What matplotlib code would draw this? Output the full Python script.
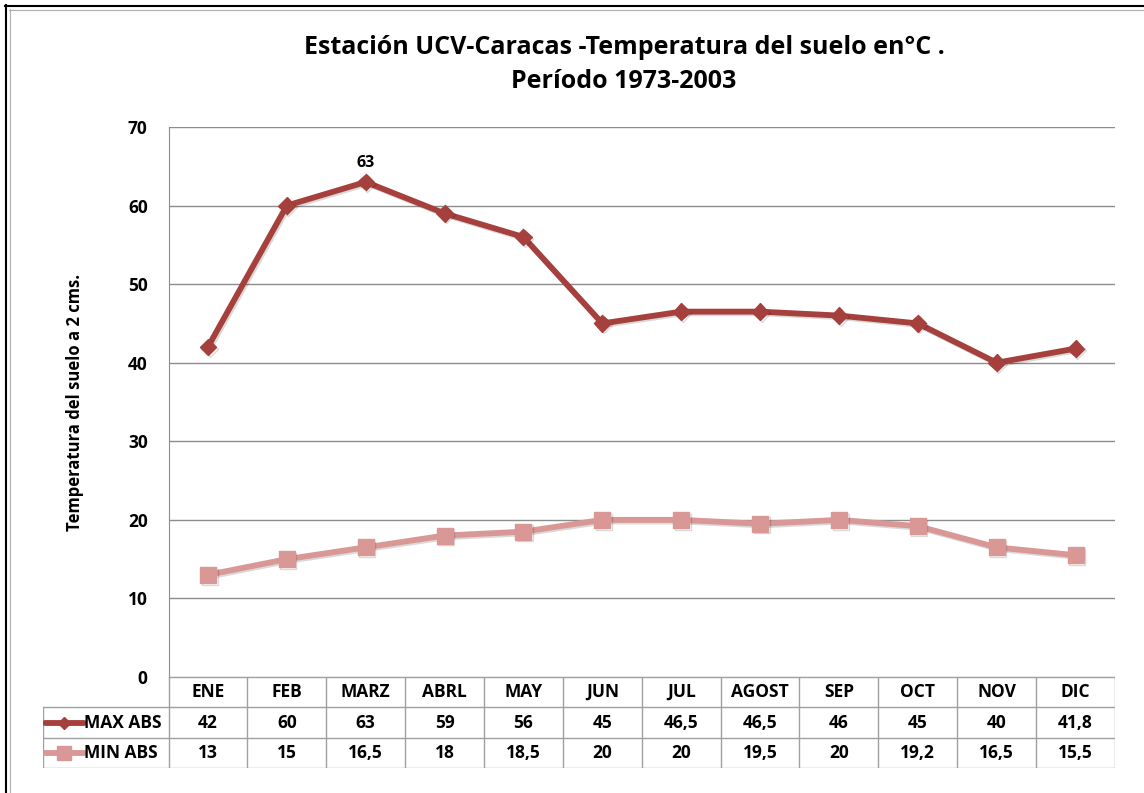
import matplotlib
matplotlib.use("Agg")
import matplotlib.pyplot as plt
import matplotlib.patheffects as pe
from matplotlib.lines import Line2D

# data
months = ["ENE", "FEB", "MARZ", "ABRL", "MAY", "JUN", "JUL", "AGOST", "SEP", "OCT", "NOV", "DIC"]
max_abs = [42, 60, 63, 59, 56, 45, 46.5, 46.5, 46, 45, 40, 41.8]
min_abs = [13, 15, 16.5, 18, 18.5, 20, 20, 19.5, 20, 19.2, 16.5, 15.5]
series_names = ["MAX ABS", "MIN ABS"]
yticks = [0, 10, 20, 30, 40, 50, 60, 70]

W, H = 1144, 793
max_color = "#A5403D"
min_color = "#D99795"
grid_color = "#8C8C8C"
table_color = "#A0A0A0"
font = "Open Sans"

plt.rcParams["font.family"] = [font, "DejaVu Sans"]
plt.rcParams["font.weight"] = "bold"


def fx(px):
    return px / W


def fy(py):
    return 1 - py / H


fig = plt.figure(figsize=(W / 100, H / 100), dpi=100)

# frame around the chart
fig.add_artist(Line2D([fx(6), fx(6)], [fy(5), 0], color="black", lw=1.5))
fig.add_artist(Line2D([fx(5), 1], [fy(6), fy(6)], color="black", lw=1.5))
fig.add_artist(Line2D([fx(9.5), fx(9.5)], [fy(9), 0], color="#B0B0B0", lw=0.8))
fig.add_artist(Line2D([fx(9), 1], [fy(9.5), fy(9.5)], color="#B0B0B0", lw=0.8))

# main plot area
left, right, top, bottom = 168.5, 1115, 127, 677
ax = fig.add_axes([fx(left), fy(bottom), fx(right - left), (bottom - top) / H])
x = list(range(len(months)))
shadow = [pe.SimpleLineShadow(offset=(1.2, -1.2), alpha=0.15, shadow_color="black"),
          pe.Normal()]
ax.plot(x, min_abs, color=min_color, lw=4.2, marker="s", ms=11.5,
        path_effects=shadow, zorder=3)
ax.plot(x, max_abs, color=max_color, lw=4.2, marker="D", ms=8.5,
        path_effects=shadow, zorder=4)
ax.annotate("63", (2, max_abs[2]), xytext=(0, 8), textcoords="offset points",
            ha="center", va="bottom", fontsize=11.5, fontweight="bold")

ax.set_xlim(-0.5, 11.5)
ax.set_ylim(0, 70)
ax.set_yticks(yticks)
ax.set_xticks([])
ax.yaxis.grid(True, color=grid_color, lw=1)
ax.set_axisbelow(True)
for s in ["top", "right", "bottom"]:
    ax.spines[s].set_visible(False)
ax.spines["left"].set_color(grid_color)
ax.tick_params(axis="y", length=0, pad=15, labelsize=12.5)
for lab in ax.get_yticklabels():
    lab.set_fontweight("bold")

fig.text(fx(75), fy(402), "Temperatura del suelo a 2 cms.", rotation=90,
         ha="center", va="center", fontsize=12, fontweight="bold")

fig.text(fx(624), fy(48), "Estación UCV-Caracas -Temperatura del suelo en°C .",
         ha="center", va="center", fontsize=18, fontweight="bold")
fig.text(fx(624), fy(82), "Período 1973-2003",
         ha="center", va="center", fontsize=18, fontweight="bold")

# data table under the plot
col_w = (right - left) / len(months)
tab_left = 42.7
t_top, t_bot = 677, 768
tax = fig.add_axes([fx(tab_left), fy(t_bot), fx(right - tab_left), (t_bot - t_top) / H])
lab_x0 = -0.5 - (left - tab_left) / col_w
tax.set_xlim(lab_x0, 11.5)
tax.set_ylim(0, 3)
tax.axis("off")

for yy in [0, 1, 2]:
    tax.plot([lab_x0, 11.5], [yy, yy], color=table_color, lw=1)
tax.plot([-0.5, 11.5], [3, 3], color=table_color, lw=1)
for i in range(len(months) + 1):
    tax.plot([i - 0.5, i - 0.5], [0, 3], color=table_color, lw=1)
tax.plot([lab_x0, lab_x0], [0, 2], color=table_color, lw=1)

fs = 12.5
for i, m in enumerate(months):
    tax.text(i, 2.5, m, ha="center", va="center", fontsize=fs, fontweight="bold")
    tax.text(i, 1.5, f"{max_abs[i]:g}".replace(".", ","), ha="center", va="center",
             fontsize=fs, fontweight="bold")
    tax.text(i, 0.5, f"{min_abs[i]:g}".replace(".", ","), ha="center", va="center",
             fontsize=fs, fontweight="bold")

# legend keys inside the row labels
key_x0 = lab_x0 + 2.5 / col_w
key_x1 = lab_x0 + 41 / col_w
key_m = (key_x0 + key_x1) / 2
for yy, c, mk, ms, name in [(1.5, max_color, "D", 6.5, series_names[0]),
                            (0.5, min_color, "s", 10, series_names[1])]:
    tax.plot([key_x0, key_x1], [yy, yy], color=c, lw=4.2, solid_capstyle="round")
    tax.plot([key_m], [yy], color=c, marker=mk, ms=ms)
    tax.text(key_x1 + 0.3 / col_w, yy, name, ha="left", va="center",
             fontsize=fs, fontweight="bold")

fig.savefig("out.png", dpi=100)
